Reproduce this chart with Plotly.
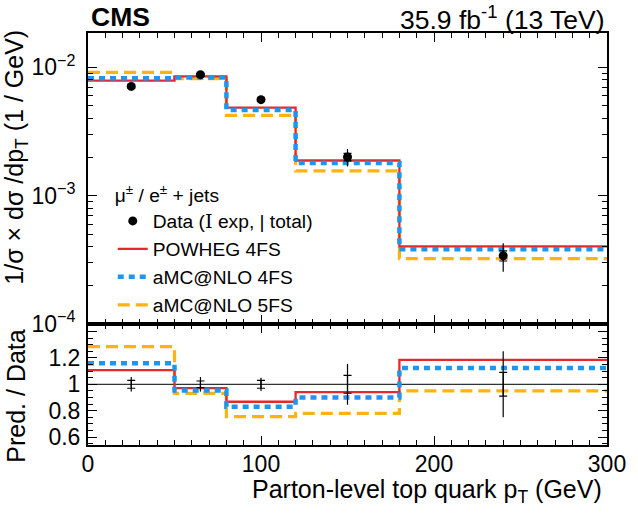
import numpy as np
import plotly.graph_objects as go

# ---------------- data ----------------
bin_edges = [0, 50, 80, 120, 180, 300]
bin_centers = [25, 65, 100, 150, 240]
data = [0.00711, 0.00877, 0.00560, 0.00200, 0.000340]
err_tot_rel = [0.055, 0.055, 0.050, 0.155, 0.250]
err_exp_rel = [0.030, 0.025, 0.030, 0.068, 0.090]
powheg_4fs = [0.00787, 0.00851, 0.00486, 0.00188, 0.000403]
amcnlo_4fs = [0.00824, 0.00835, 0.00465, 0.00180, 0.000382]
amcnlo_5fs = [0.00914, 0.00817, 0.00423, 0.00156, 0.000323]

y_top_ticks = [1e-4, 1e-3, 1e-2]
y_top_ticktext = ["10<sup>\u22124</sup>", "10<sup>\u22123</sup>", "10<sup>\u22122</sup>"]
y_ratio_ticks = [0.6, 0.8, 1.0, 1.2, 1.4]
y_ratio_ticktext = ["0.6", "0.8", "1", "1.2", ""]

RED = "#E4282C"
BLUE = "#1E96F0"
ORANGE = "#FFB30F"
FONT = "Liberation Sans, Arial, Helvetica, sans-serif"

d = np.array(data)
tot = d * np.array(err_tot_rel)
exp_ = d * np.array(err_exp_rel)


def step(vals):
    return list(bin_edges), list(vals) + [vals[-1]]


W, H = 638, 515
ML, MR, MT, MB = 88, 26, 33, 70
PW, PH = W - ML - MR, H - MT - MB
split = 121 / PH


def xp(px):
    return (px - ML) / PW


def yp(py):
    return (H - MB - py) / PH


fig = go.Figure()

preds = [
    ("aMC@NLO 5FS", amcnlo_5fs, dict(color=ORANGE, width=3.2, dash="12px,6px"), 4),
    ("POWHEG 4FS", powheg_4fs, dict(color=RED, width=2.3), 2),
    ("aMC@NLO 4FS", amcnlo_4fs, dict(color=BLUE, width=4.5, dash="6px,5px"), 3),
]

for name, vals, ln, rank in preds:
    sx, sy = step(vals)
    fig.add_trace(go.Scatter(x=sx, y=sy, mode="lines", line=dict(shape="hv", **ln),
                             name=name, legendrank=rank, xaxis="x", yaxis="y"))
    r = list(np.array(vals) / d)
    rx, ry = step(r)
    fig.add_trace(go.Scatter(x=rx, y=ry, mode="lines", line=dict(shape="hv", **ln),
                             showlegend=False, xaxis="x2", yaxis="y2"))

# data in upper panel
fig.add_trace(go.Scatter(x=bin_centers, y=data, mode="markers",
                         marker=dict(size=0.1, color="rgba(0,0,0,0)"),
                         error_y=dict(type="data", array=list(tot), width=0, thickness=1.2, color="black"),
                         showlegend=False, xaxis="x", yaxis="y"))
fig.add_trace(go.Scatter(x=bin_centers, y=data, mode="markers",
                         marker=dict(size=9, color="black"),
                         error_y=dict(type="data", array=list(exp_), width=4, thickness=1.2, color="black"),
                         name="Data (<span style='font-family:DejaVu Serif'>I</span> exp, | total)",
                         legendrank=1, xaxis="x", yaxis="y"))

# data uncertainties in ratio panel
ones = [1.0] * len(bin_centers)
fig.add_trace(go.Scatter(x=bin_centers, y=ones, mode="markers",
                         marker=dict(size=0.1, color="rgba(0,0,0,0)"),
                         error_y=dict(type="data", array=err_tot_rel, width=0, thickness=1.2, color="black"),
                         showlegend=False, xaxis="x2", yaxis="y2"))
fig.add_trace(go.Scatter(x=bin_centers, y=ones, mode="markers",
                         marker=dict(size=0.1, color="rgba(0,0,0,0)"),
                         error_y=dict(type="data", array=err_exp_rel, width=4, thickness=1.2, color="black"),
                         showlegend=False, xaxis="x2", yaxis="y2"))

fig.add_shape(type="line", xref="x2", yref="y2", x0=0, x1=300, y0=1, y1=1,
              line=dict(color="black", width=1), layer="below")

axis_common = dict(showline=True, linewidth=2, linecolor="black", mirror="allticks",
                   ticks="inside", tickwidth=1.3, tickcolor="black",
                   showgrid=False, zeroline=False, tickfont=dict(size=23, family=FONT))

fig.update_layout(
    width=W, height=H,
    margin=dict(l=ML, r=MR, t=MT, b=MB),
    paper_bgcolor="white", plot_bgcolor="white",
    font=dict(family=FONT, size=20, color="black"),
    xaxis=dict(domain=[0, 1], anchor="y", range=[0, 300], tick0=0, dtick=100, ticklen=9,
               minor=dict(ticks="inside", dtick=10, ticklen=5, tickwidth=1.2, tickcolor="black"),
               showticklabels=False, matches="x2", **axis_common),
    xaxis2=dict(domain=[0, 1], anchor="y2", range=[0, 300], tick0=0, dtick=100, ticklen=9,
                minor=dict(ticks="inside", dtick=10, ticklen=5, tickwidth=1.2, tickcolor="black"),
                ticklabelstandoff=-3, **axis_common),
    yaxis=dict(domain=[split, 1], anchor="x", type="log", range=[-4.0005, -1.732],
               tickmode="array", tickvals=y_top_ticks, ticktext=y_top_ticktext, ticklen=9,
               minor=dict(ticks="inside", tickmode="array",
                          tickvals=[k * 10.0 ** e for e in (-4, -3, -2) for k in range(2, 10)],
                          ticklen=5, tickwidth=1.2, tickcolor="black"),
               ticklabelstandoff=6, **axis_common),
    yaxis2=dict(domain=[0, split], anchor="x2", range=[0.54, 1.457],
                tickmode="array", tickvals=y_ratio_ticks, ticktext=y_ratio_ticktext, ticklen=9,
                minor=dict(ticks="inside", tick0=0, dtick=0.05, ticklen=5, tickwidth=1.2, tickcolor="black"),
                ticklabelstandoff=1, **axis_common),
    legend=dict(x=xp(113), y=yp(177), xanchor="left", yanchor="top",
                bgcolor="rgba(0,0,0,0)", font=dict(size=19.2, family=FONT),
                title=dict(text="\u03bc<sup>\u00b1</sup> / e<sup>\u00b1</sup> + jets", font=dict(size=19.2, family=FONT)),
                tracegroupgap=0, itemwidth=30),
    showlegend=True,
)

anns = [
    dict(text="<b>CMS</b>", x=xp(89), y=yp(17), xanchor="left", yanchor="middle", font=dict(size=26.5)),
    dict(text="35.9 fb<sup>-1</sup> (13 TeV)", x=xp(612), y=yp(18), xanchor="right", yanchor="middle", font=dict(size=26.5)),
    dict(text="Parton-level top quark p<sub>T</sub> (GeV)", x=xp(609), y=yp(491), xanchor="right", yanchor="middle", font=dict(size=25)),
    dict(text="1/\u03c3 \u00d7 d\u03c3 /dp<sub>T</sub> (1 / GeV)", x=xp(15), y=yp(157), xanchor="center", yanchor="middle",
         textangle=-90, font=dict(size=25)),
    dict(text="Pred. / Data", x=xp(15), y=yp(396), xanchor="center", yanchor="middle", textangle=-90, font=dict(size=25)),
]
for a in anns:
    a.update(xref="paper", yref="paper", showarrow=False)
    fig.add_annotation(**a)

fig.write_html("out.html")
